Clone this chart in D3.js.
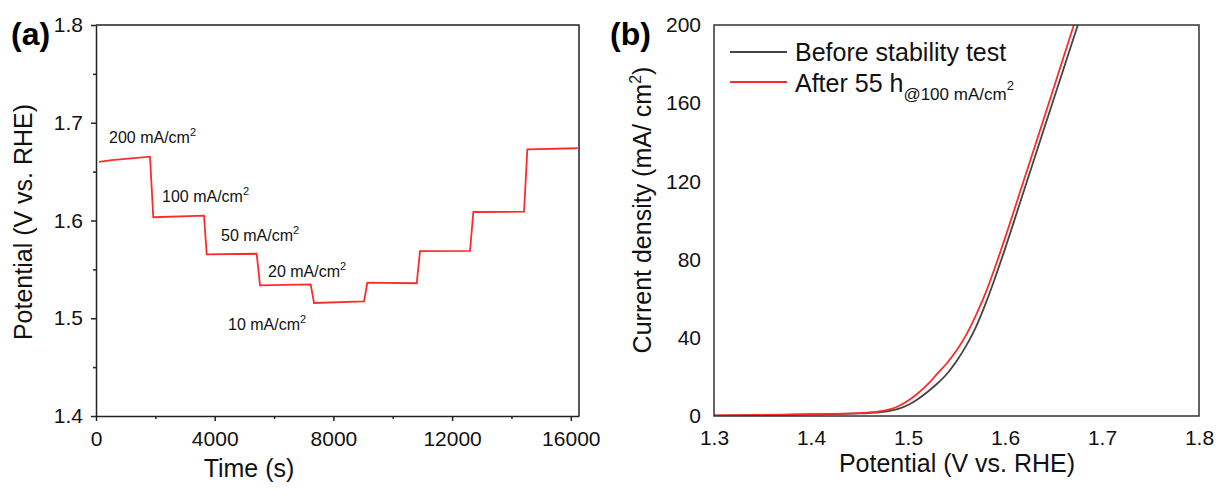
<!DOCTYPE html>
<html lang="en">
<head>
    <meta charset="UTF-8">
    <title>Stability test</title>
    <script src="https://d3js.org/d3.v7.min.js"></script>
    <style>
        body { margin: 0; background: #fff; }
        svg { font-family: Arial, "Liberation Sans", sans-serif; }
        .domain { stroke: #222; stroke-width: 1.5; }
        .tick line { stroke: #222; stroke-width: 1.5; }
        .tick text { font-size: 21px; fill: #111; }
    </style>
</head>
<body>
    <div id="chart"></div>

    <script>
        // (a) chronopotentiometry steps
        var timeSec = [100, 530, 1820, 1930, 3640, 3730, 5415, 5527, 7235, 7347, 9032, 9143,
                       10808, 10919, 12604, 12716, 14424, 14535, 16233];
        var potential = [1.660, 1.6618, 1.6653, 1.6033, 1.6049, 1.5654, 1.5660, 1.5337, 1.5347,
                         1.5156, 1.5173, 1.5364, 1.5358, 1.5686, 1.5690, 1.6087, 1.6090, 1.6728, 1.6739];
        var stepLabels = ["200 mA/cm", "100 mA/cm", "50 mA/cm", "20 mA/cm", "10 mA/cm"];
        var timeTicks = [0, 4000, 8000, 12000, 16000];
        var potTicks = [1.4, 1.5, 1.6, 1.7, 1.8];

        // (b) polarization curves
        var volt = [1.30, 1.35, 1.40, 1.45, 1.47, 1.48, 1.49, 1.50, 1.51, 1.52, 1.53, 1.54,
                    1.55, 1.56, 1.57, 1.58, 1.59, 1.60, 1.62, 1.64, 1.66, 1.68];
        var before = [0.2, 0.5, 0.8, 1.3, 1.9, 2.5, 3.6, 5.6, 8.6, 12.3, 16.5, 21.5,
                      28, 36, 45.5, 57.5, 71, 85.5, 116, 146.5, 177, 207.5];
        var after = [0.3, 0.6, 0.9, 1.5, 2.3, 3.3, 5.0, 7.8, 11.5, 16, 21.5, 27,
                     33.5, 41.5, 51.5, 63, 76.5, 91, 121.5, 152, 183, 214];
        var voltTicks = [1.3, 1.4, 1.5, 1.6, 1.7, 1.8];
        var currTicks = [0, 40, 80, 120, 160, 200];

        var svg = d3.select("#chart").append("svg")
            .attr("width", 1218).attr("height", 495);

        // ---------- panel (a) ----------
        var xa = d3.scaleLinear().domain([0, 16276]).range([96, 579]);
        var ya = d3.scaleLinear().domain([1.4, 1.8]).range([416, 25]);

        var ga = svg.append("g");
        // minor ticks
        ga.append("g").attr("transform", "translate(0,416)")
          .call(d3.axisBottom(xa).tickValues(d3.range(2000, 16001, 4000)).tickSize(3).tickFormat(""))
          .call(function(g) { g.select(".domain").remove(); });
        ga.append("g").attr("transform", "translate(96,0)")
          .call(d3.axisLeft(ya).tickValues([1.45, 1.55, 1.65, 1.75]).tickSize(3).tickFormat(""))
          .call(function(g) { g.select(".domain").remove(); });
        // major ticks
        ga.append("g").attr("transform", "translate(0,416)")
          .call(d3.axisBottom(xa).tickValues(timeTicks).tickSize(5).tickPadding(10).tickSizeOuter(0)
                .tickFormat(d3.format("d")));
        ga.append("g").attr("transform", "translate(96,0)")
          .call(d3.axisLeft(ya).tickValues(potTicks).tickSize(5).tickPadding(8).tickSizeOuter(0)
                .tickFormat(d3.format(".1f")));
        // frame top/right
        ga.append("path")
          .attr("d", "M96,25H579V416")
          .attr("fill", "none").attr("stroke", "#222").attr("stroke-width", 1.5);

        var pts = timeSec.map(function(t, i) { return [t, potential[i]]; });
        ga.append("path")
          .datum(pts)
          .attr("fill", "none")
          .attr("stroke", "#ff2b2b")
          .attr("stroke-width", 1.8)
          .attr("d", d3.line().x(function(d) { return xa(d[0]); }).y(function(d) { return ya(d[1]); }));

        // step annotations
        var labelPos = [[109, 143], [162, 202], [221, 241], [268, 277], [228, 330]];
        stepLabels.forEach(function(s, i) {
            var t = ga.append("text")
                .attr("x", labelPos[i][0]).attr("y", labelPos[i][1])
                .attr("font-size", 16).attr("fill", "#111");
            t.append("tspan").text(s);
            t.append("tspan").attr("dy", -7).attr("font-size", 11).text("2");
        });

        ga.append("text").attr("x", 11).attr("y", 45)
          .attr("font-size", 32).attr("font-weight", "bold").text("(a)");
        ga.append("text").attr("x", 249).attr("y", 477)
          .attr("font-size", 25).attr("text-anchor", "middle").attr("fill", "#111")
          .text("Time (s)");
        ga.append("text")
          .attr("transform", "translate(32,222) rotate(-90)")
          .attr("font-size", 25).attr("text-anchor", "middle").attr("fill", "#111")
          .text("Potential (V vs. RHE)");

        // ---------- panel (b) ----------
        var xb = d3.scaleLinear().domain([1.3, 1.8]).range([714, 1199]);
        var yb = d3.scaleLinear().domain([0, 200]).range([416, 25]);

        var gb = svg.append("g");
        gb.append("g").attr("transform", "translate(0,416)")
          .call(d3.axisBottom(xb).tickValues(voltTicks).tickSize(0).tickPadding(14)
                .tickFormat(d3.format(".1f")))
          .call(function(g) { g.select(".domain").remove(); });
        gb.append("g").attr("transform", "translate(714,0)")
          .call(d3.axisLeft(yb).tickValues(currTicks).tickSize(0).tickPadding(13))
          .call(function(g) { g.select(".domain").remove(); });

        svg.append("clipPath").attr("id", "clipb")
          .append("rect").attr("x", 714).attr("y", 25).attr("width", 485).attr("height", 391);

        var lineB = d3.line().curve(d3.curveMonotoneX)
            .x(function(d, i) { return xb(volt[i]); })
            .y(function(d) { return yb(d); });

        gb.append("path").datum(before)
          .attr("clip-path", "url(#clipb)")
          .attr("fill", "none").attr("stroke", "#444").attr("stroke-width", 1.8)
          .attr("d", lineB);
        gb.append("path").datum(after)
          .attr("clip-path", "url(#clipb)")
          .attr("fill", "none").attr("stroke", "#ff2b2b").attr("stroke-width", 1.8)
          .attr("d", lineB);

        gb.append("rect")
          .attr("x", 714).attr("y", 25).attr("width", 485).attr("height", 391)
          .attr("fill", "none").attr("stroke", "#333").attr("stroke-width", 1.5);

        // legend
        gb.append("line").attr("x1", 730).attr("x2", 787).attr("y1", 52).attr("y2", 52)
          .attr("stroke", "#444").attr("stroke-width", 1.8);
        gb.append("line").attr("x1", 730).attr("x2", 787).attr("y1", 82).attr("y2", 82)
          .attr("stroke", "#ff2b2b").attr("stroke-width", 1.8);
        gb.append("text").attr("x", 795).attr("y", 61).attr("font-size", 25).attr("fill", "#111")
          .text("Before stability test");
        var lt = gb.append("text").attr("x", 795).attr("y", 92).attr("font-size", 25).attr("fill", "#111");
        lt.append("tspan").text("After 55 h");
        lt.append("tspan").attr("dy", 8).attr("font-size", 17).text("@100 mA/cm");
        lt.append("tspan").attr("dy", -10).attr("font-size", 13).text("2");

        gb.append("text").attr("x", 610).attr("y", 45)
          .attr("font-size", 32).attr("font-weight", "bold").text("(b)");
        gb.append("text").attr("x", 957).attr("y", 472)
          .attr("font-size", 25).attr("text-anchor", "middle").attr("fill", "#111")
          .text("Potential (V vs. RHE)");
        var yt = gb.append("text")
          .attr("transform", "translate(651,210) rotate(-90)")
          .attr("font-size", 25).attr("text-anchor", "middle").attr("fill", "#111");
        yt.append("tspan").text("Current density (mA/ cm");
        yt.append("tspan").attr("dy", -10).attr("font-size", 16).text("2");
        yt.append("tspan").attr("dy", 10).text(")");
    </script>
</body>
</html>
